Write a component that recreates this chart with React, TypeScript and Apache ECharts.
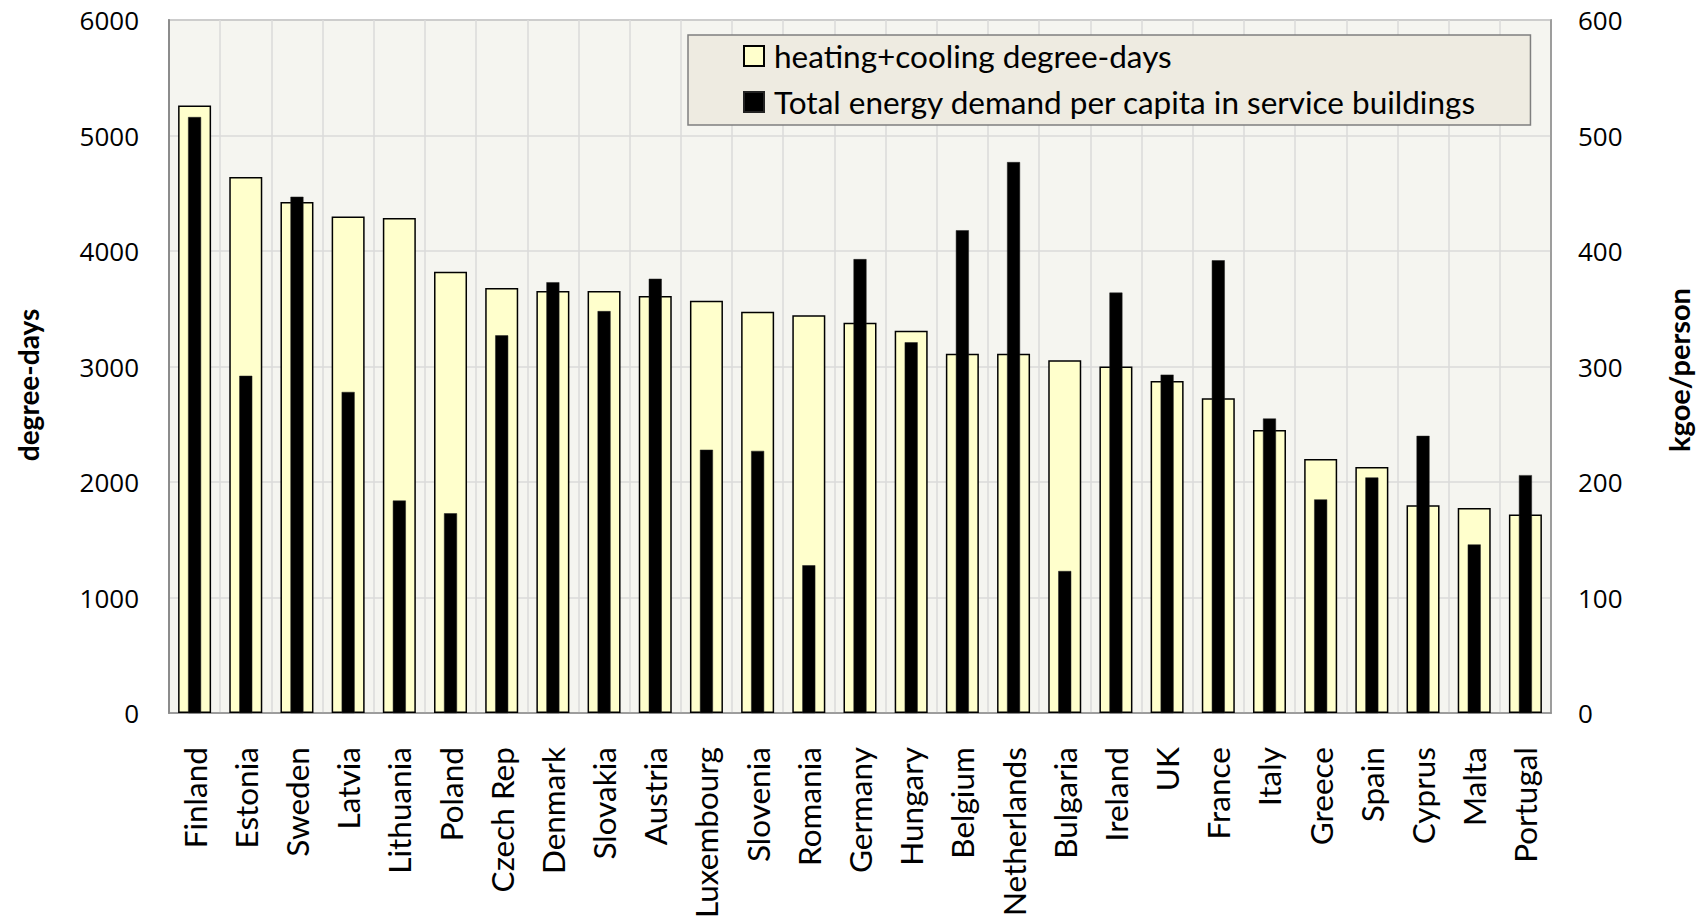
import React, { useEffect, useRef } from "react";
import * as echarts from "echarts";

const categories = ["Finland", "Estonia", "Sweden", "Latvia", "Lithuania", "Poland", "Czech Rep", "Denmark", "Slovakia", "Austria", "Luxembourg", "Slovenia", "Romania", "Germany", "Hungary", "Belgium", "Netherlands", "Bulgaria", "Ireland", "UK", "France", "Italy", "Greece", "Spain", "Cyprus", "Malta", "Portugal"];
const degreeDays = [5260, 4640, 4425, 4300, 4285, 3820, 3680, 3655, 3655, 3610, 3570, 3475, 3445, 3380, 3310, 3110, 3110, 3055, 3000, 2875, 2725, 2450, 2200, 2130, 1800, 1775, 1720];
const energy = [516, 292, 447, 278, 184, 173, 327, 373, 348, 376, 228, 227, 128, 393, 321, 418, 477, 123, 364, 293, 392, 255, 185, 204, 240, 146, 206];
const seriesNames = ["heating+cooling degree-days", "Total energy demand per capita in service buildings"];
const leftAxisName = "degree-days";
const rightAxisName = "kgoe/person";

const LABEL_FONT = "Lato";
const TICK_FONT = "Open Sans";

export default function App() {
  const ref = useRef<HTMLDivElement>(null);
  useEffect(() => {
    if (!ref.current) return;
    const chart = echarts.init(ref.current, null, { renderer: "svg" });
    chart.setOption({
      animation: false,
      backgroundColor: "#ffffff",
      grid: {
        left: 169,
        right: 151,
        top: 20,
        bottom: 203,
        show: true,
        backgroundColor: "#F5F5F0",
        borderColor: "#8C8C8C",
        borderWidth: 1.5,
      },
      legend: {
        left: 688,
        top: 35,
        orient: "vertical",
        icon: "rect",
        itemWidth: 20,
        itemHeight: 20,
        itemGap: 14,
        padding: [5, 54, 7, 55],
        backgroundColor: "#EEEBE1",
        borderColor: "#7F7F7F",
        borderWidth: 1.5,
        textStyle: { fontFamily: LABEL_FONT, fontSize: 31.5, color: "#000", lineHeight: 32, padding: [0, 0, 0, 5] },
        data: seriesNames,
      },
      xAxis: [
        {
          type: "category",
          data: categories,
          axisLine: { show: true, lineStyle: { color: "#8C8C8C", width: 1.5 } },
          axisTick: { show: false },
          splitLine: { show: true, interval: 0, lineStyle: { color: "#DADADA", width: 1.5 } },
          axisLabel: {
            rotate: 90,
            interval: 0,
            margin: 34,
            fontFamily: LABEL_FONT,
            fontSize: 31.5,
            color: "#000",
          },
        },
        { type: "category", data: categories, show: false },
      ],
      yAxis: [
        {
          type: "value",
          min: 0,
          max: 6000,
          interval: 1000,
          axisLine: { show: true, lineStyle: { color: "#8C8C8C", width: 2 } },
          axisTick: { show: false },
          splitLine: { show: true, lineStyle: { color: "#DADADA", width: 1.5 } },
          axisLabel: { fontFamily: TICK_FONT, fontSize: 26, color: "#000", margin: 30, formatter: (v: number) => String(v) },
        },
        {
          type: "value",
          min: 0,
          max: 600,
          interval: 100,
          position: "right",
          axisLine: { show: true, lineStyle: { color: "#8C8C8C", width: 1.5 } },
          axisTick: { show: false },
          splitLine: { show: false },
          axisLabel: { fontFamily: TICK_FONT, fontSize: 26, color: "#000", margin: 27, formatter: (v: number) => String(v) },
        },
      ],
      series: [
        {
          name: seriesNames[0],
          type: "bar",
          xAxisIndex: 0,
          yAxisIndex: 0,
          data: degreeDays,
          barWidth: 33,
          itemStyle: { color: "#FFFFCC", borderColor: "#000", borderWidth: 1.5 },
        },
        {
          name: seriesNames[1],
          type: "bar",
          xAxisIndex: 1,
          yAxisIndex: 1,
          data: energy,
          barWidth: 13,
          itemStyle: { color: "#000", borderColor: "#222", borderWidth: 0.5 },
        },
      ],
      graphic: [
        {
          type: "text",
          x: 28,
          y: 385,
          rotation: Math.PI / 2,
          style: {
            text: leftAxisName,
            fontFamily: LABEL_FONT,
            fontWeight: "bold",
            fontSize: 28,
            fill: "#000",
            align: "center",
            verticalAlign: "middle",
          },
        },
        {
          type: "text",
          x: 1678,
          y: 370,
          rotation: Math.PI / 2,
          style: {
            text: rightAxisName,
            fontFamily: LABEL_FONT,
            fontWeight: "bold",
            fontSize: 29,
            fill: "#000",
            align: "center",
            verticalAlign: "middle",
          },
        },
      ],
    });
    return () => chart.dispose();
  }, []);
  return <div ref={ref} style={{ position: "absolute", left: 0, top: 0, width: 1702, height: 921 }} />;
}
